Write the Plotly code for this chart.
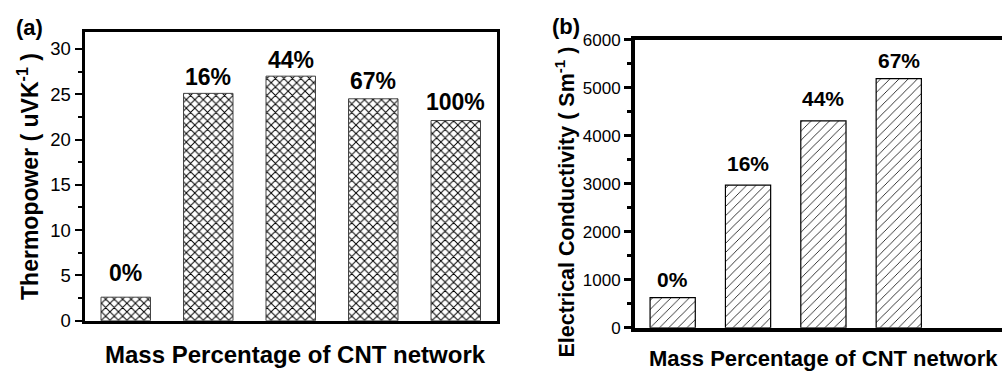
import plotly.graph_objects as go

# ---- data -------------------------------------------------------------
mass_a = ["0%", "16%", "44%", "67%", "100%"]
thermopower = [2.6, 25.1, 27.0, 24.5, 22.1]          # uV/K

mass_b = ["0%", "16%", "44%", "67%"]
conductivity = [630, 2970, 4310, 5190]                # S/m

# pixel gap between each bar top and its label baseline
lift_a = [14, 6.7, 6.3, 7.7, 9]
lift_b = [9.3, 13, 14, 9.4]

# ---- canvas -----------------------------------------------------------
W, H = 1002, 372
FONT = "Arial, 'Liberation Sans', sans-serif"


def px(x):
    return x / W


def py(y):
    return 1 - y / H


fig = go.Figure()

fig.add_trace(go.Bar(
    x=mass_a, y=thermopower, xaxis="x", yaxis="y", width=0.6,
    marker=dict(
        color="white",
        line=dict(color="#444444", width=1),
        pattern=dict(shape="x", size=6, solidity=0.3,
                     fgcolor="black", bgcolor="white", fillmode="replace"),
    ),
    showlegend=False, hoverinfo="skip",
))

fig.add_trace(go.Bar(
    x=mass_b, y=conductivity, xaxis="x2", yaxis="y2", width=0.6,
    marker=dict(
        color="white",
        line=dict(color="black", width=1.2),
        pattern=dict(shape="/", size=6.5, solidity=0.12,
                     fgcolor="black", bgcolor="white", fillmode="replace"),
    ),
    showlegend=False, hoverinfo="skip",
))

annotations = []
for cat, val, lift in zip(mass_a, thermopower, lift_a):
    annotations.append(dict(
        x=cat, y=val, xref="x", yref="y", text=f"<b>{cat}</b>",
        showarrow=False, yanchor="bottom", yshift=lift - 5,
        font=dict(family=FONT, size=23, color="black"),
    ))
for cat, val, lift in zip(mass_b, conductivity, lift_b):
    annotations.append(dict(
        x=cat, y=val, xref="x2", yref="y2", text=f"<b>{cat}</b>",
        showarrow=False, yanchor="bottom", yshift=lift - 5,
        font=dict(family=FONT, size=21, color="black"),
    ))

# axis titles and panel tags
annotations += [
    dict(x=px(295), y=py(364), xref="paper", yref="paper",
         text="<b>Mass Percentage of CNT network</b>", showarrow=False,
         xanchor="center", yanchor="middle",
         font=dict(family=FONT, size=24, color="black")),
    dict(x=px(823), y=py(368), xref="paper", yref="paper",
         text="<b>Mass Percentage of CNT network</b>", showarrow=False,
         xanchor="center", yanchor="middle",
         font=dict(family=FONT, size=22, color="black")),
    dict(x=px(28), y=py(177), xref="paper", yref="paper",
         text="<b>Thermopower ( uVK<sup>-1</sup> )</b>", showarrow=False,
         textangle=-90, xanchor="center", yanchor="middle",
         font=dict(family=FONT, size=23, color="black")),
    dict(x=px(565), y=py(204), xref="paper", yref="paper",
         text="<b>Electrical Conductivity ( Sm<sup>-1</sup> )</b>",
         showarrow=False, textangle=-90, xanchor="center", yanchor="middle",
         font=dict(family=FONT, size=21.5, color="black")),
    dict(x=px(29), y=py(19), xref="paper", yref="paper",
         text="<b>(a)</b>", showarrow=False,
         xanchor="center", yanchor="middle",
         font=dict(family=FONT, size=22, color="black")),
    dict(x=px(566), y=py(18), xref="paper", yref="paper",
         text="<b>(b)</b>", showarrow=False,
         xanchor="center", yanchor="middle",
         font=dict(family=FONT, size=22, color="black")),
]

fig.update_layout(
    width=W, height=H,
    margin=dict(l=0, r=0, t=0, b=0),
    paper_bgcolor="white", plot_bgcolor="white",
    bargap=0.4,
    annotations=annotations,
    xaxis=dict(
        domain=[px(84.5), px(497)], anchor="y",
        type="category", categoryorder="array", categoryarray=mass_a,
        range=[-0.5, 4.5], showticklabels=False, ticks="",
        showline=True, linewidth=3, linecolor="black", mirror=True,
        showgrid=False, zeroline=False, fixedrange=True,
    ),
    yaxis=dict(
        domain=[py(328.5), py(24)], anchor="x",
        range=[0, 31.9], dtick=5, tick0=0,
        ticks="outside", ticklen=7, tickwidth=2, tickcolor="black",
        minor=dict(ticks="outside", ticklen=4, tickwidth=2,
                   tickcolor="black", dtick=2.5, tick0=0),
        showline=True, linewidth=3, linecolor="black", mirror=True,
        showgrid=False, zeroline=False,
        tickfont=dict(family=FONT, size=18.5, color="black"),
    ),
    xaxis2=dict(
        domain=[px(635), 1.0], anchor="y2",
        type="category", categoryorder="array", categoryarray=mass_b,
        range=[-0.5, 4.37], showticklabels=False, ticks="",
        showline=True, linewidth=4, linecolor="black", mirror=True,
        showgrid=False, zeroline=False,
    ),
    yaxis2=dict(
        domain=[py(336), py(32.3)], anchor="x2",
        range=[0, 6000], dtick=1000, tick0=0,
        ticks="outside", ticklen=7, tickwidth=3, tickcolor="black",
        minor=dict(ticks="outside", ticklen=4, tickwidth=3,
                   tickcolor="black", dtick=500, tick0=0),
        showline=True, linewidth=4, linecolor="black", mirror=False,
        showgrid=False, zeroline=False,
        tickfont=dict(family=FONT, size=17, color="black"),
    ),
)

fig.write_html("out.html")
